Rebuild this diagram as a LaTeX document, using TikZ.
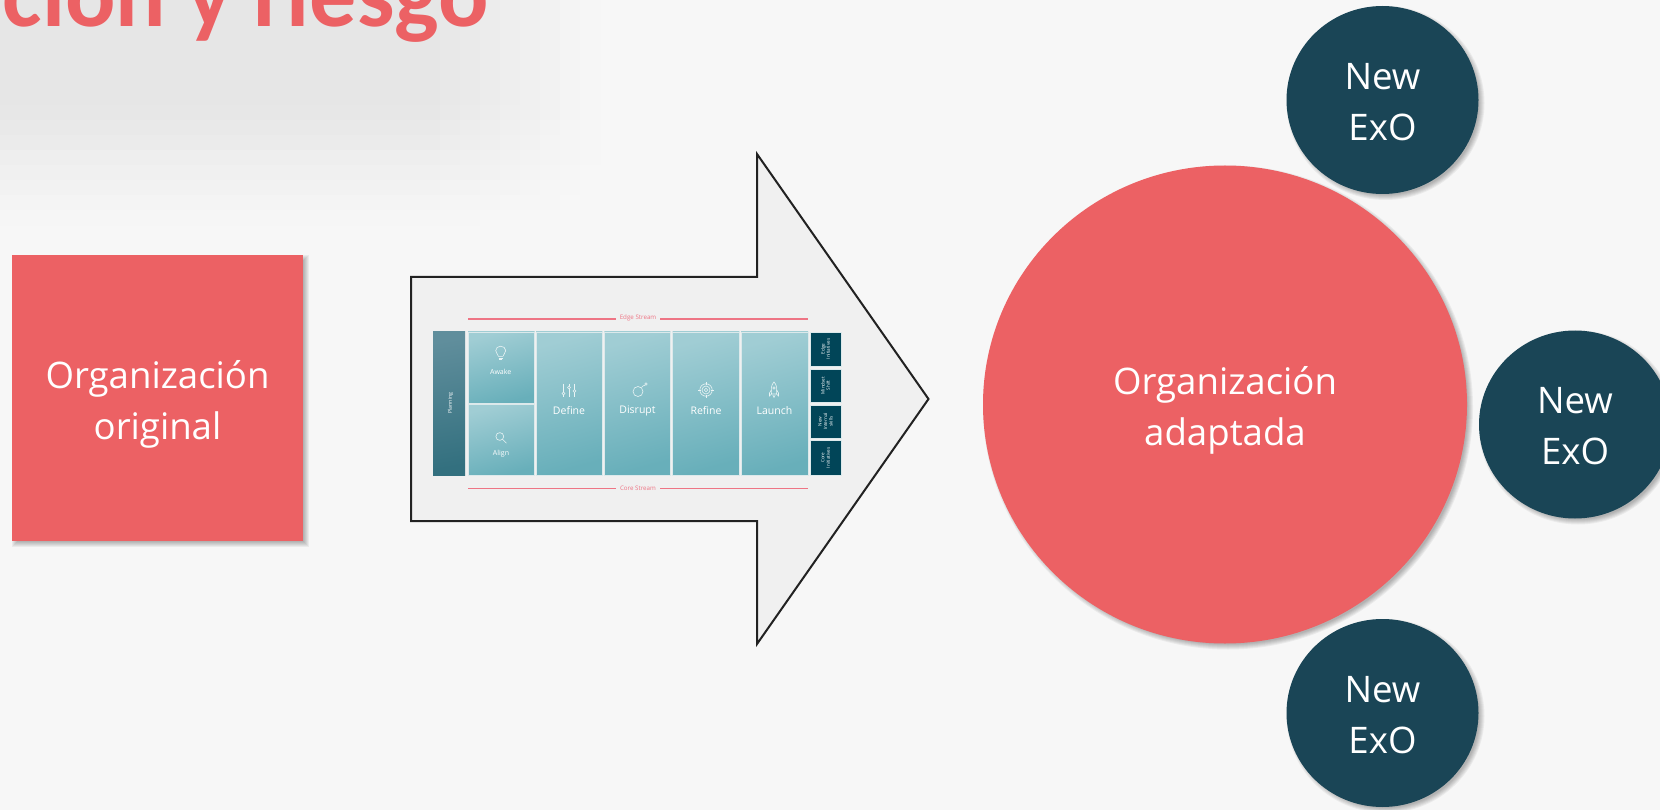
\documentclass[tikz,border=0pt]{standalone}
\usepackage{fontspec}
\usetikzlibrary{shapes.geometric}
\setmainfont{Open Sans}
\newfontfamily\titlefont{Carlito}
\definecolor{bgc}{HTML}{F7F7F7}
\definecolor{redc}{HTML}{EC6164}
\definecolor{navyc}{HTML}{1A4556}
\definecolor{deepc}{HTML}{014558}
\definecolor{arrowc}{HTML}{F0F0F0}
\definecolor{linec}{HTML}{222222}
\definecolor{tilea}{HTML}{A0CDD4}
\definecolor{tileb}{HTML}{68AFBA}
\definecolor{plana}{HTML}{608E9C}
\definecolor{planb}{HTML}{33707F}
\definecolor{tileedge}{HTML}{DCE9EB}
\definecolor{streamc}{HTML}{EE7585}
\definecolor{iconc}{HTML}{EAF4F5}
\newcommand{\shadowell}[4]{%
  \foreach \g in {3,2,1,0,-1,-2}{\fill[black,opacity=.05] (#1+3,#2+3) ellipse[x radius=#3+\g,y radius=#4+\g];}}
\tikzset{
  x=1pt,y=-1pt,
  bigtext/.style={text=white,align=center,font=\fontsize{36.6}{51}\selectfont,inner sep=0pt},
  redsq/.style={fill=redc,bigtext,minimum width=291pt,minimum height=286pt},
  redcirc/.style={ellipse,fill=redc,bigtext,minimum width=484pt,minimum height=478pt},
  exo/.style={ellipse,fill=navyc,bigtext,minimum width=192pt,minimum height=188pt},
  tile/.style={draw=tileedge,line width=.7pt,shading=axis,top color=tilea,bottom color=tileb,shading angle=15},
  plantile/.style={shading=axis,top color=plana,bottom color=planb,shading angle=10},
  deep/.style={fill=deepc,draw=tileedge,line width=.4pt},
  tilelab/.style={text=white,font=\fontsize{10.5}{12}\selectfont,inner sep=0pt},
  smalllab/.style={text=white,font=\fontsize{7}{8}\selectfont,inner sep=0pt},
  tinylab/.style={text=white,rotate=90,align=center,font=\fontsize{4.6}{5.4}\selectfont,inner sep=0pt},
  streamlab/.style={text=streamc,font=\fontsize{6.2}{7}\selectfont,inner sep=0pt},
  streamline/.style={draw=streamc,line width=1.2pt},
  icon/.style={draw=iconc,line width=.6pt,fill=none},
}
\begin{document}
\begin{tikzpicture}
\useasboundingbox (0,0) rectangle (1660,810);
\clip (0,0) rectangle (1660,810);
\fill[bgc] (0,0) rectangle (1660,810);
% blurred smear under the title
\foreach \cx in {0,20,...,580}{
  \foreach \cy in {0,15,...,210}{
    \pgfmathsetmacro{\shadeamt}{7*min(1,max(0,(590-\cx)/170))*min(1,max(0,(215-\cy)/120))}
    \fill[black!\shadeamt!bgc] (\cx,\cy) rectangle (\cx+21,\cy+16);
  }}
\node[anchor=base east,text=redc,inner sep=0pt,font=\titlefont\bfseries\fontsize{94}{100}\selectfont] (title) at (489,26.5) {ción y riesgo};
% square
\foreach \g in {3,2,1,0,-1,-2}{\fill[black,opacity=.05] (12+3-\g,255+3-\g) rectangle (303+3+\g,541+3+\g);}
\node[redsq] (orig) at (157.5,398) {\rule{0pt}{41.5pt}Organización\\original};
% arrow
\draw[line width=2pt,linec,fill=arrowc,miter limit=10]
  (411,277) -- (757,277) -- (757,154) -- (928.5,399) -- (757,644) -- (757,521) -- (411,521) -- cycle;
% stream lines
\coordinate (ea) at (468,319); \coordinate (eb) at (616,319);
\coordinate (ec) at (660,319); \coordinate (ed) at (808,319);
\coordinate (ca) at (468,488.5); \coordinate (cb) at (616,488.5);
\coordinate (cc) at (660,488.5); \coordinate (cd) at (808,488.5);
\draw[streamline] (ea) -- (eb) (ec) -- (ed) (ca) -- (cb) (cc) -- (cd);
\node[streamlab] (edge) at (638,318.3) {Edge Stream};
\node[streamlab] (core) at (638,488) {Core Stream};
% tiles
\fill[plantile] (433,332) rectangle (465,475);
\node[tinylab,font=\fontsize{5.2}{6}\selectfont] (planning) at (450.5,403) {Planning};
\path[tile] (468,332) rectangle (534.5,403);
\path[tile] (468,404.7) rectangle (534.5,475);
\path[tile] (536,332) rectangle (602.3,475);
\path[tile] (604.3,332) rectangle (670.3,475);
\path[tile] (672.7,332) rectangle (739.3,475);
\path[tile] (741,332) rectangle (808,475);
\node[smalllab] (awake) at (500.7,371.7) {Awake};
\node[smalllab] (align) at (501,454) {Align};
\node[tilelab] (define) at (569,411) {Define};
\node[tilelab] (disrupt) at (637.5,411) {Disrupt};
\node[tilelab] (refine) at (706,411) {Refine};
\node[tilelab] (launch) at (774.5,411) {Launch};
\path[deep] (809.7,332) rectangle (841.3,366);
\path[deep] (809.7,368.7) rectangle (841.3,402.3);
\path[deep] (809.7,404.7) rectangle (841.3,438.3);
\path[deep] (809.7,440.3) rectangle (841.3,475.3);
\node[tinylab] (t1) at (825.5,349) {Edge\\Initiatives};
\node[tinylab] (t2) at (825.5,385.5) {Mindset\\Shift};
\node[tinylab] (t3) at (825.5,421.5) {New\\Internal\\skills};
\node[tinylab] (t4) at (825.5,457.8) {Core\\Initiatives};
% icons
\begin{scope}[shift={(500.7,353)}]
  \draw[icon] (-2.2,3.4) .. controls (-2.6,1) and (-5,0) .. (-5,-2.4) .. controls (-5,-5) and (-2.6,-6.8) .. (0,-6.8) .. controls (2.6,-6.8) and (5,-5) .. (5,-2.4) .. controls (5,0) and (2.6,1) .. (2.2,3.4) -- cycle;
  \draw[icon] (-2,5) -- (2,5) (-1.4,6.4) -- (1.4,6.4);
\end{scope}
\begin{scope}[shift={(501,437.7)}]
  \draw[icon] (-1.2,-1.2) circle[radius=3.9];
  \draw[icon] (1.6,1.6) -- (5.4,5.4);
\end{scope}
\begin{scope}[shift={(569,390)}]
  \draw[icon] (-5.5,-6.5) -- (-5.5,6.5) (0,-6.5) -- (0,6.5) (5.5,-6.5) -- (5.5,6.5);
  \filldraw[icon,fill=tilea!70!tileb] (-5.5,3.5) circle[radius=1.5] (0,-2.5) circle[radius=1.5] (5.5,1) circle[radius=1.5];
\end{scope}
\begin{scope}[shift={(640,390)}]
  \draw[icon] (-2,1.5) circle[radius=5];
  \draw[icon] (1.5,-2.5) .. controls (2.5,-5) and (4,-4) .. (5,-4.5);
  \draw[icon] (6,-6) circle[radius=1.2];
\end{scope}
\begin{scope}[shift={(706,390)}]
  \draw[icon] (0,0) circle[radius=1.8] (0,0) circle[radius=4] (0,0) circle[radius=6.2];
  \draw[icon] (0,-7.6) -- (0,-5) (0,5) -- (0,7.6) (-7.6,0) -- (-5,0) (5,0) -- (7.6,0);
\end{scope}
\begin{scope}[shift={(774,390)}]
  \draw[icon] (0,-8) .. controls (-3,-5) and (-3,-1) .. (-2.5,4) -- (2.5,4) .. controls (3,-1) and (3,-5) .. (0,-8) -- cycle;
  \draw[icon] (-2.6,0) -- (-4.5,3) -- (-4.5,6) -- (-2.5,4) (2.6,0) -- (4.5,3) -- (4.5,6) -- (2.5,4);
  \draw[icon] (0,-2) circle[radius=1.2];
  \draw[icon] (-1.2,5) -- (0,7.5) -- (1.2,5);
\end{scope}
% circles
\shadowell{1382.5}{100}{96}{94}
\shadowell{1575}{424.5}{96}{94}
\shadowell{1382.5}{713}{96}{94}
\shadowell{1225}{404.5}{242}{239}
\node[exo] (exo1) at (1382.5,100) {\rule{0pt}{30pt}New\\ExO};
\node[exo] (exo2) at (1575,424.5) {\rule{0pt}{30pt}New\\ExO};
\node[exo] (exo3) at (1382.5,713) {\rule{0pt}{30pt}New\\ExO};
\node[redcirc] (adapt) at (1225,404.5) {\rule{0pt}{40pt}Organización\\adaptada};
\end{tikzpicture}
\end{document}
